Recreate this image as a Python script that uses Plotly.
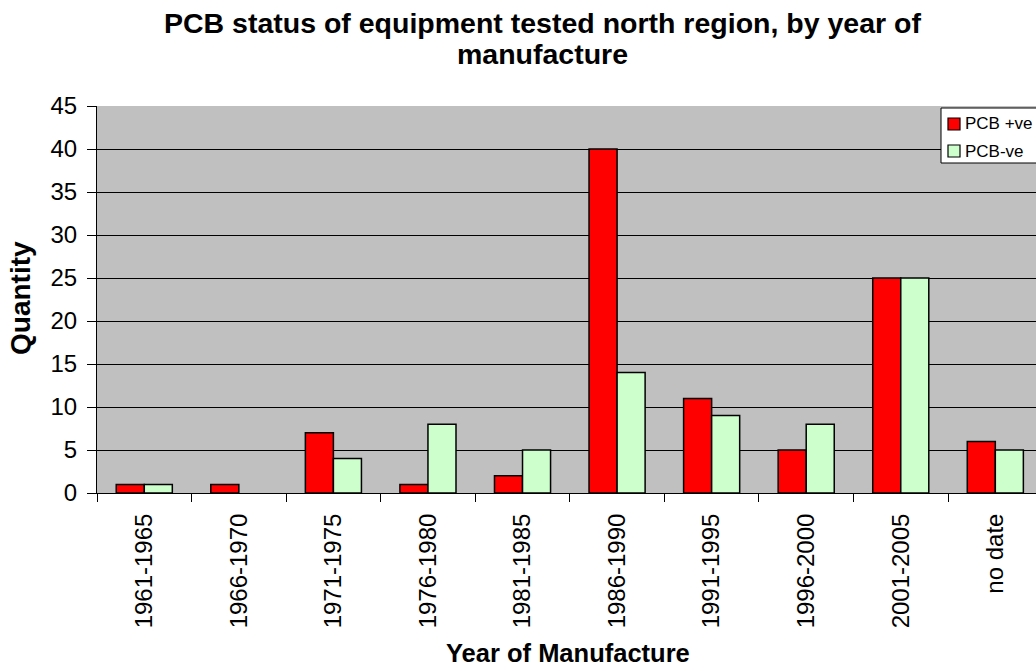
import plotly.graph_objects as go

categories = ["1961-1965", "1966-1970", "1971-1975", "1976-1980", "1981-1985",
              "1986-1990", "1991-1995", "1996-2000", "2001-2005", "no date"]
pcb_pos = [1, 1, 7, 1, 2, 40, 11, 5, 25, 6]
pcb_neg = [1, 0, 4, 8, 5, 14, 9, 8, 25, 5]
series_names = ["PCB +ve", "PCB-ve"]
series_colors = ["#FF0000", "#CCFFCC"]
y_ticks = [0, 5, 10, 15, 20, 25, 30, 35, 40, 45]

FONT = "Liberation Sans, Arial, sans-serif"
W, H = 1036, 671
L, R, T, B = 97, 0, 106, 178
PW, PH = W - L - R, H - T - B


def px_x(x):
    return (x - L) / PW


def px_y(y):
    return 1 - (y - T) / PH


fig = go.Figure()
for name, vals, col in zip(series_names, [pcb_pos, pcb_neg], series_colors):
    fig.add_trace(go.Bar(x=categories, y=vals, name=name, showlegend=False,
                         marker=dict(color=col,
                                     line=dict(color="black",
                                               width=[0 if v == 0 else 1.5 for v in vals]))))

# visible part of plot area ends at the window edge (category span cut off)
x_right = -0.5 + (W - L) / 94.56

# legend drawn by hand so that its box can run past the right edge like the original
shapes = [dict(type="rect", xref="paper", yref="paper",
               x0=px_x(941), x1=px_x(1080), y0=px_y(163), y1=px_y(108),
               fillcolor="white", line=dict(color="black", width=1), layer="above")]
annotations = []
for i, (name, col) in enumerate(zip(series_names, series_colors)):
    cy = 124 + 27 * i
    shapes.append(dict(type="rect", xref="paper", yref="paper",
                       x0=px_x(948), x1=px_x(960), y0=px_y(cy + 6), y1=px_y(cy - 6),
                       fillcolor=col, line=dict(color="black", width=1.2), layer="above"))
    annotations.append(dict(text=name, xref="paper", yref="paper",
                            x=px_x(963), y=px_y(cy), xanchor="left", yanchor="middle",
                            showarrow=False, font=dict(size=17, family=FONT)))

annotations += [
    dict(text="<b>PCB status of equipment tested north region, by year of</b>",
         xref="paper", yref="paper", x=px_x(542), y=px_y(23),
         xanchor="center", yanchor="middle", showarrow=False,
         font=dict(size=28.5, family=FONT)),
    dict(text="<b>manufacture</b>",
         xref="paper", yref="paper", x=px_x(542), y=px_y(54),
         xanchor="center", yanchor="middle", showarrow=False,
         font=dict(size=28.5, family=FONT)),
    dict(text="<b>Quantity</b>", textangle=-90,
         xref="paper", yref="paper", x=px_x(20), y=px_y(298),
         xanchor="center", yanchor="middle", showarrow=False,
         font=dict(size=28, family=FONT)),
    dict(text="<b>Year of Manufacture</b>",
         xref="paper", yref="paper", x=px_x(568), y=px_y(653),
         xanchor="center", yanchor="middle", showarrow=False,
         font=dict(size=25.5, family=FONT)),
]

fig.update_layout(
    width=W, height=H,
    margin=dict(l=L, r=R, t=T, b=B, pad=0),
    paper_bgcolor="white",
    plot_bgcolor="#C0C0C0",
    barmode="group", bargap=0.407, bargroupgap=0,
    font=dict(family=FONT, color="black"),
    showlegend=False,
    xaxis=dict(type="category", range=[-0.5, x_right], tickson="boundaries",
               ticks="outside", ticklen=8, tickcolor="black", tickwidth=1,
               showline=True, linecolor="black", linewidth=1,
               tickangle=-90, tickfont=dict(size=24, family=FONT),
               ticklabelstandoff=10, showgrid=False),
    yaxis=dict(range=[0, 45], tickvals=y_ticks, ticks="outside", ticklen=9,
               tickcolor="black", tickwidth=1, showline=True, linecolor="black",
               linewidth=1, showgrid=True, gridcolor="black", gridwidth=1,
               tickfont=dict(size=24, family=FONT), ticklabelstandoff=5,
               zeroline=False),
    shapes=shapes,
    annotations=annotations,
)

fig.write_html("out.html", config={"displayModeBar": False},
               post_script="document.body.style.margin='0';")
